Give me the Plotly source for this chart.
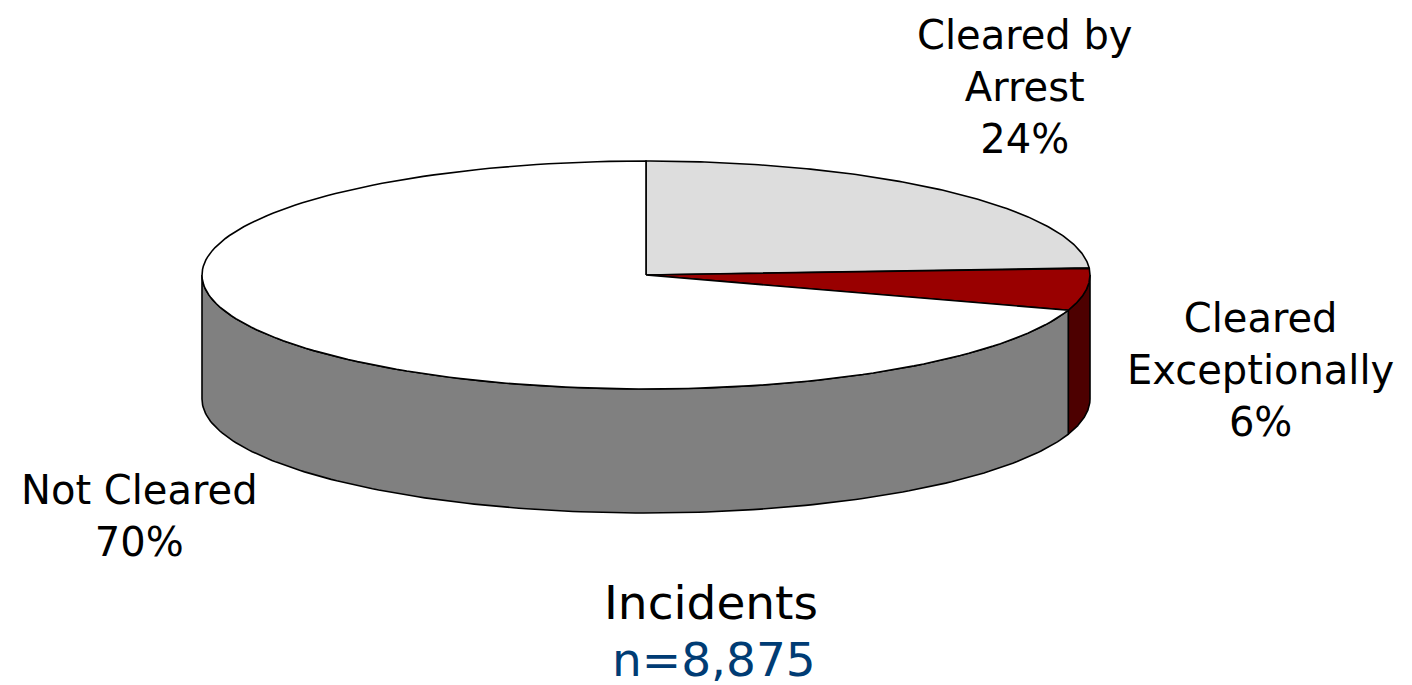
import numpy as np
import plotly.graph_objects as go

categories = ["Cleared by<br>Arrest<br>24%", "Cleared<br>Exceptionally<br>6%", "Not Cleared<br>70%"]
shares = [24, 6, 70]
top_colors = ["#DDDDDD", "#990000", "#FFFFFF"]
side_colors = ["#6F6F6F", "#4D0000", "#808080"]
title_text = "Incidents"
count_text = "n=8,875"

CX, CY, RX, RY, DEPTH = 646, 275, 444, 114, 124
FONT = "DejaVu Sans"

def rim(a0, a1, dy=0, n=160):
    t = np.radians(np.linspace(a0, a1, n))
    return CX + RX * np.sin(t), CY - RY * np.cos(t) + dy

def poly(x, y, fill):
    return go.Scatter(x=x, y=y, mode="lines", fill="toself", fillcolor=fill,
                      line=dict(color="black", width=1.6), hoverinfo="skip", showlegend=False)

edges = np.cumsum([0] + shares) * 3.6
fig = go.Figure()

# side walls: only the part of each slice on the front half of the rim is visible
for i in range(3):
    a0, a1 = max(edges[i], 90), min(edges[i + 1], 270)
    if a1 <= a0:
        continue
    xt, yt = rim(a0, a1)
    xb, yb = rim(a1, a0, DEPTH)
    fig.add_trace(poly(np.r_[xt, xb, xt[0]], np.r_[yt, yb, yt[0]], side_colors[i]))

# a small wall sliver for the first slice edge region is hidden; top faces follow
for i in range(3):
    xr, yr = rim(edges[i], edges[i + 1])
    fig.add_trace(poly(np.r_[CX, xr, CX], np.r_[CY, yr, CY], top_colors[i]))

def label(x, y, text, size, color="black"):
    fig.add_annotation(x=x, y=y, text=text, showarrow=False, xref="x", yref="y",
                       font=dict(family=FONT, size=size, color=color), align="center",
                       xanchor="center", yanchor="middle")

label(1025, 87, categories[0], 40)
label(1260, 370, categories[1], 40)
label(139, 516, categories[2], 40)
label(711, 602, title_text, 47)
label(714, 659, count_text, 47, "#003C74")

fig.update_xaxes(range=[0, 1412], visible=False, fixedrange=True)
fig.update_yaxes(range=[685, 0], visible=False, fixedrange=True)
fig.update_layout(width=1412, height=685, margin=dict(l=0, r=0, t=0, b=0),
                  paper_bgcolor="white", plot_bgcolor="white", showlegend=False)
fig.write_html("out.html", config=dict(displayModeBar=False),
               post_script="document.body.style.margin='0';document.body.style.overflow='hidden';")
